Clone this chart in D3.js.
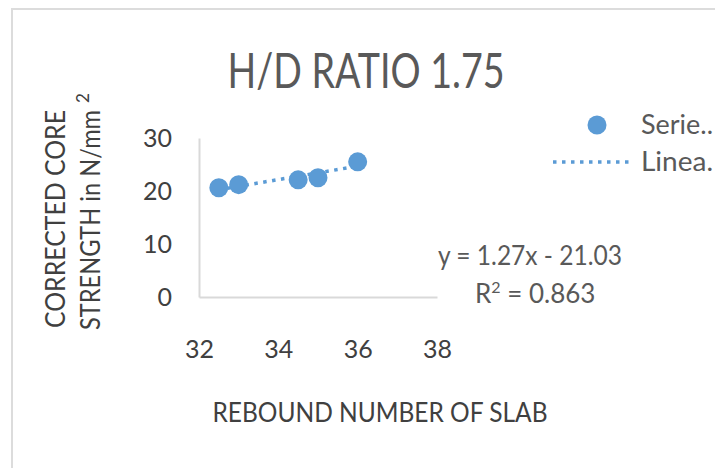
<!DOCTYPE html>
<html>
<head>
<meta charset="utf-8">
<script src="https://cdn.jsdelivr.net/npm/d3@7/dist/d3.min.js"></script>
<style>
  body { margin: 0; background: #fff; }
  svg text { font-family: Lato, "Open Sans", sans-serif; fill: #595959; }
</style>
</head>
<body>
<svg id="chart" width="715" height="468"></svg>
<script>
(function() {

const reboundNumber = [32.5, 33, 34.5, 35, 36];
const coreStrength = [20.6, 21.2, 22.1, 22.5, 25.5];
const xTicks = [32, 34, 36, 38];
const yTicks = [0, 10, 20, 30];
const slope = 1.27;
const intercept = -21.03;
const rSquared = '0.863';

const svg = d3.select('#chart');
const blue = '#5b9bd5';

// chart frame (only left/top edges visible in the crop)
svg.append('rect')
  .attr('x', 12).attr('y', 9)
  .attr('width', 740).attr('height', 500)
  .attr('fill', 'none')
  .attr('stroke', '#dcdcdc')
  .attr('stroke-width', 2);

const x = d3.scaleLinear().domain([32, 38]).range([199, 437]);
const y = d3.scaleLinear().domain([0, 30]).range([297, 138]);

// axes
const xAxis = svg.append('g')
  .attr('transform', `translate(0,${y(0)})`)
  .call(d3.axisBottom(x).tickValues(xTicks).tickFormat(d3.format('d'))
    .tickSize(0).tickPadding(40).tickSizeOuter(0));
const yAxis = svg.append('g')
  .attr('transform', `translate(${x(32)},0)`)
  .call(d3.axisLeft(y).tickValues(yTicks).tickFormat(d3.format('d'))
    .tickSize(0).tickPadding(27).tickSizeOuter(0));

[xAxis, yAxis].forEach(ax => {
  ax.select('.domain').attr('stroke', '#d9d9d9').attr('stroke-width', 2);
  ax.selectAll('text')
    .style('font-size', '25px')
    .style('fill', '#404040');
});
xAxis.selectAll('text').attr('dy', null).attr('y', 61);
yAxis.selectAll('text').attr('dy', '0.35em');

// trendline (from displayed equation)
const xMin = d3.min(reboundNumber);
const xMax = d3.max(reboundNumber);
svg.append('line')
  .attr('x1', x(xMin)).attr('y1', y(slope * xMin + intercept))
  .attr('x2', x(xMax)).attr('y2', y(slope * xMax + intercept))
  .attr('stroke', blue)
  .attr('stroke-width', 3.5)
  .attr('stroke-dasharray', '3.5,5.5');

// points
svg.selectAll('.pt')
  .data(reboundNumber)
  .enter().append('circle')
    .attr('class', 'pt')
    .attr('cx', d => x(d))
    .attr('cy', (d, i) => y(coreStrength[i]))
    .attr('r', 9.5)
    .attr('fill', blue);

// title
svg.append('text')
  .attr('x', 366).attr('y', 88)
  .attr('text-anchor', 'middle')
  .attr('textLength', 277)
  .attr('lengthAdjust', 'spacingAndGlyphs')
  .style('font-size', '49px')
  .text('H/D RATIO 1.75');

// x axis title
svg.append('text')
  .attr('x', 380).attr('y', 422)
  .attr('text-anchor', 'middle')
  .attr('textLength', 335)
  .attr('lengthAdjust', 'spacingAndGlyphs')
  .style('font-size', '26px')
  .style('fill', '#404040')
  .text('REBOUND NUMBER OF SLAB');

// y axis title, two lines
svg.append('text')
  .attr('transform', 'translate(65,219) rotate(-90)')
  .attr('text-anchor', 'middle')
  .attr('textLength', 218)
  .attr('lengthAdjust', 'spacingAndGlyphs')
  .style('font-size', '27px')
  .style('fill', '#404040')
  .text('CORRECTED CORE');

const yt2 = svg.append('text')
  .attr('transform', 'translate(100,330) rotate(-90)')
  .style('font-size', '27px')
  .style('fill', '#404040');
yt2.append('tspan')
  .attr('textLength', 220)
  .attr('lengthAdjust', 'spacingAndGlyphs')
  .text('STRENGTH in N/mm');
yt2.append('tspan')
  .attr('dx', 7)
  .attr('dy', -11)
  .style('font-size', '17px')
  .text('2');

// equation
svg.append('text')
  .attr('x', 530).attr('y', 265)
  .attr('text-anchor', 'middle')
  .attr('textLength', 184)
  .attr('lengthAdjust', 'spacingAndGlyphs')
  .style('font-size', '26px')
  .text(`y = ${slope}x - ${Math.abs(intercept).toFixed(2)}`);

const r2 = svg.append('text')
  .attr('x', 475).attr('y', 303)
  .style('font-size', '26px');
r2.append('tspan').text('R');
r2.append('tspan').attr('dy', -10).style('font-size', '16px').text('2');
r2.append('tspan').attr('dy', 10).text(' = ' + rSquared);

// legend
svg.append('circle')
  .attr('cx', 597).attr('cy', 125).attr('r', 9.5)
  .attr('fill', blue);
svg.append('line')
  .attr('x1', 553).attr('y1', 162).attr('x2', 632).attr('y2', 162)
  .attr('stroke', blue)
  .attr('stroke-width', 3.5)
  .attr('stroke-dasharray', '3.5,5.5');
svg.append('text')
  .attr('x', 641).attr('y', 134)
  .attr('textLength', 72)
  .attr('lengthAdjust', 'spacingAndGlyphs')
  .style('font-size', '26px')
  .text('Serie..');
svg.append('text')
  .attr('x', 641).attr('y', 171)
  .attr('textLength', 72)
  .attr('lengthAdjust', 'spacingAndGlyphs')
  .style('font-size', '26px')
  .text('Linea.');

})();
</script>
</body>
</html>
